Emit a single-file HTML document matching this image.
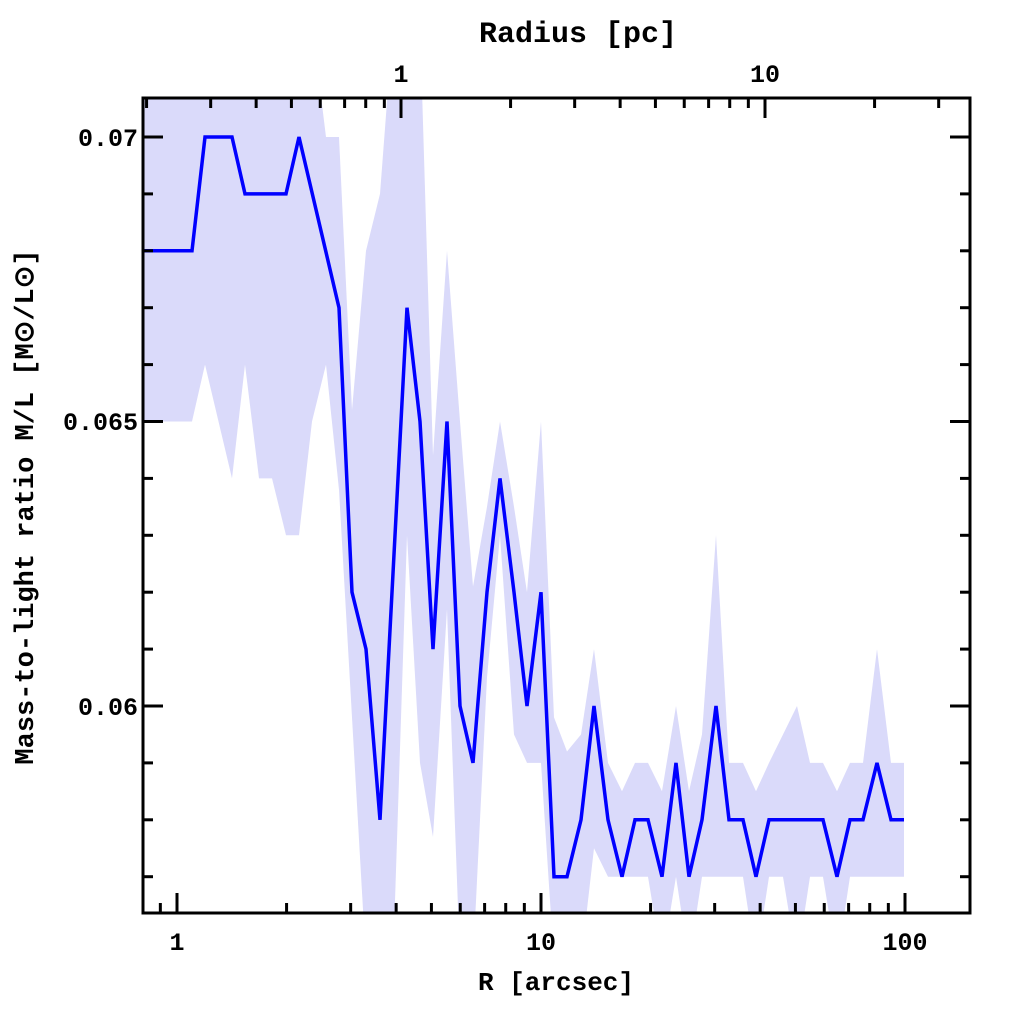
<!DOCTYPE html>
<html><head><meta charset="utf-8"><style>
html,body{margin:0;padding:0;background:#fff;width:1024px;height:1024px;overflow:hidden}
text{font-family:"Liberation Mono",monospace;font-weight:bold;fill:#000}
</style></head><body>
<svg id="s" width="1024" height="1024" xmlns="http://www.w3.org/2000/svg">
<defs><clipPath id="c"><rect x="143" y="98" width="827" height="815"/></clipPath></defs>
<g id="band" clip-path="url(#c)"></g>
<g id="line" clip-path="url(#c)"></g>
<rect x="143" y="98" width="827" height="815" fill="none" stroke="#000" stroke-width="3"/>
<g id="ticks" stroke="#000" stroke-width="3"></g>
<text x="138" y="146" font-size="25" text-anchor="end">0.07</text>
<text x="138" y="430" font-size="25" text-anchor="end">0.065</text>
<text x="138" y="715" font-size="25" text-anchor="end">0.06</text>
<text x="177" y="950" font-size="25" text-anchor="middle">1</text>
<text x="541" y="950" font-size="25" text-anchor="middle">10</text>
<text x="905" y="950" font-size="25" text-anchor="middle">100</text>
<text x="556" y="990" font-size="26" text-anchor="middle">R [arcsec]</text>
<text x="401" y="82" font-size="25" text-anchor="middle">1</text>
<text x="765" y="82" font-size="25" text-anchor="middle">10</text>
<text x="578" y="42" font-size="30" text-anchor="middle">Radius [pc]</text>
<text transform="translate(33,507) rotate(-90)" font-size="27" text-anchor="middle">Mass-to-light ratio M/L [M⊙/L⊙]</text>
</svg>
<script>
var Y=function(v){return 706-(v-0.06)*56900;};
var d=[[143,.068,.065,.072],[192,.068,.065,.072],[205,.070,.066,.072],[232,.070,.064,.072],[245,.069,.066,.072],[259,.069,.064,.072],[272,.069,.064,.072],[286,.069,.063,.072],[299,.070,.063,.072],[312,.069025,.065,.072],[326,.067975,.066,.070],[339,.067,.0638,.070],[352,.062,.0598,.0652],[366,.061,.0555,.068],[380,.058,.0555,.069],[393,.06233,.0555,.072],[407,.067,.063,.072],[420,.065,.059,.072],[433,.061,.0577,.0644],[447,.065,.0617,.068],[460,.060,.0555,.065],[473,.059,.0555,.0621],[487,.062,.0605,.0635],[500,.064,.063,.065],[514,.062,.0595,.0635],[527,.060,.059,.062],[541,.062,.059,.065],[554,.057,.0555,.0598],[567,.057,.0555,.0592],[581,.058,.0555,.0595],[594,.060,.0575,.061],[608,.058,.057,.059],[622,.057,.057,.0585],[635,.058,.057,.059],[648,.058,.057,.059],[662,.057,.0555,.0585],[676,.059,.057,.060],[689,.057,.0555,.0585],[702,.058,.057,.0595],[716,.060,.057,.063],[729,.058,.057,.059],[743,.058,.057,.059],[756,.057,.0555,.0585],[769,.058,.057,.059],[783,.058,.057,.0595],[797,.058,.0555,.060],[810,.058,.057,.059],[823,.058,.057,.059],[837,.057,.0555,.0585],[850,.058,.057,.059],[863,.058,.057,.059],[877,.059,.057,.061],[891,.058,.057,.059],[904,.058,.057,.059]];
var up=d.map(function(p){return p[0]+','+Y(p[3]).toFixed(1)});
var lo=d.slice().reverse().map(function(p){return p[0]+','+Y(p[2]).toFixed(1)});
var NS="http://www.w3.org/2000/svg";
function el(t,a,par){var e=document.createElementNS(NS,t);for(var k in a)e.setAttribute(k,a[k]);document.getElementById(par).appendChild(e);}
el('polygon',{points:up.concat(lo).join(' '),fill:'#dadafa'},'band');
el('polyline',{points:d.map(function(p){return p[0]+','+Y(p[1]).toFixed(1)}).join(' '),fill:'none',stroke:'#0000ff','stroke-width':3.5,'stroke-linejoin':'miter'},'line');
function ln(x1,y1,x2,y2){el('line',{x1:x1,y1:y1,x2:x2,y2:y2},'ticks');}
for(var i=57;i<=70;i++){var v=i/1000,y=Y(v),L=(i%5==0)?20:10;ln(143,y,143+L,y);ln(970,y,970-L,y);}
var X=function(a){return 177+364*Math.log10(a);};
[0.8,0.9,1,2,3,4,5,6,7,8,9,10,20,30,40,50,60,70,80,90,100].forEach(function(a){var x=X(a);if(x<144||x>969)return;var L=(a==1||a==10||a==100)?20:10;ln(x,913,x,913-L);});
var P=function(p){return 401+364*Math.log10(p);};
[0.2,0.3,0.4,0.5,0.6,0.7,0.8,0.9,1,2,3,4,5,6,7,8,9,10,20,30].forEach(function(p){var x=P(p);if(x<144||x>969)return;var L=(p==1||p==10)?20:10;ln(x,98,x,98+L);});
</script>
</body></html>
